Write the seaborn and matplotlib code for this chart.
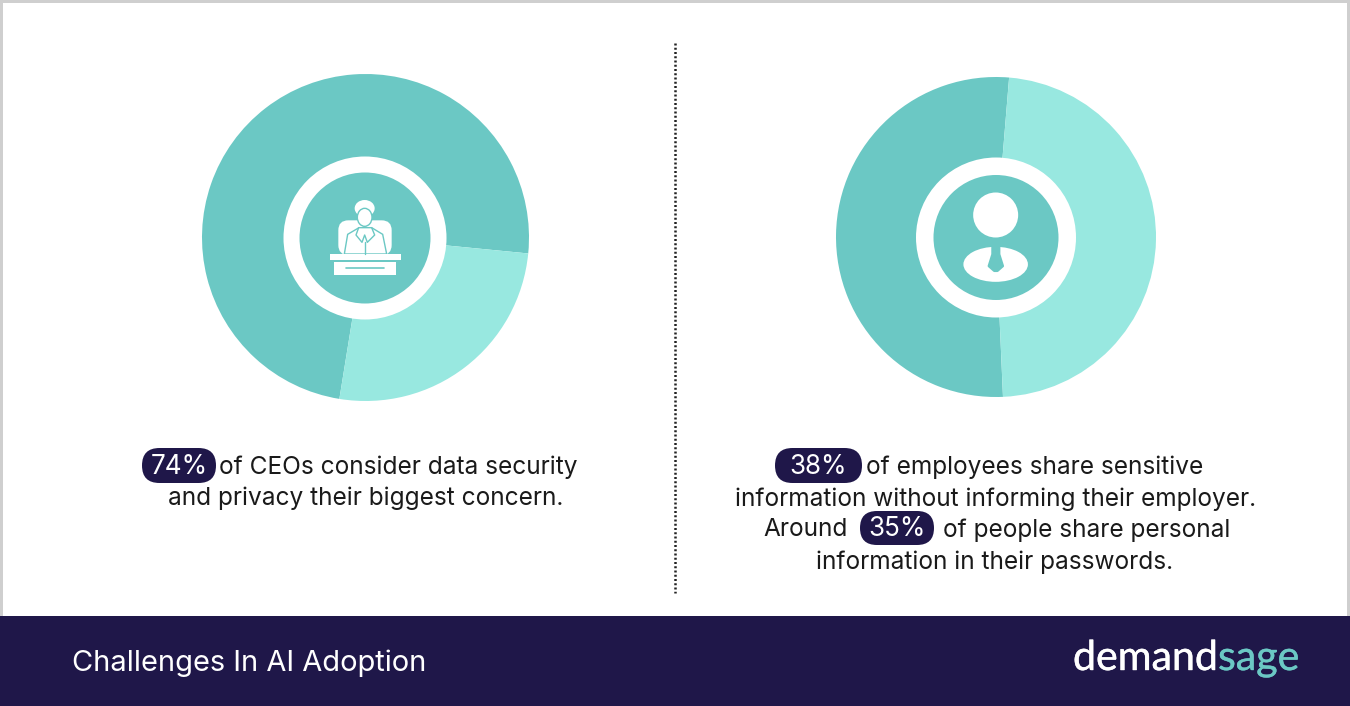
import matplotlib
matplotlib.use("Agg")
import matplotlib.pyplot as plt
import matplotlib.patheffects as pe
import seaborn as sns
from matplotlib.patches import Circle, Ellipse, FancyBboxPatch, Polygon, Rectangle

# Slice shares of each ring, dark segment first
ceo_shares = [74, 26]
employee_shares = [52, 48]
ceo_start_angle = -5.6
employee_start_angle = 85.3

ceo_lines = ["of CEOs consider data security", "and privacy their biggest concern."]
employee_lines = [
    "of employees share sensitive",
    "information without informing their employer.",
    "Around",
    "of people share personal",
    "information in their passwords.",
]
pill_labels = ["74%", "38%", "35%"]
footer_title = "Challenges In AI Adoption"
brand_parts = ["demand", "sage"]

NAVY = "#1f1749"
DARK_TEAL = "#6bc8c4"
LIGHT_TEAL = "#98e8e0"
RING_COLOURS = sns.color_palette([DARK_TEAL, LIGHT_TEAL])

sns.set_theme(style="white")
plt.rcParams["font.family"] = ["Inter", "DejaVu Sans"]

W, H = 1350, 706
fig = plt.figure(figsize=(W / 100, H / 100), dpi=100, facecolor="white")

# Pixel-addressed canvas for the panel furniture and text
canvas = fig.add_axes([0, 0, 1, 1], zorder=3)
canvas.set_xlim(0, W)
canvas.set_ylim(H, 0)
canvas.axis("off")
canvas.patch.set_alpha(0)


def draw_ring(shares, start_angle, cx, cy, radius):
    """Draw one donut through pie(), in an axes sized to the given pixel circle."""
    ax = fig.add_axes([(cx - radius) / W, 1 - (cy + radius) / H, 2 * radius / W, 2 * radius / H])
    ax.pie(shares, colors=RING_COLOURS, startangle=start_angle, counterclock=True,
           radius=1, wedgeprops={"linewidth": 0})
    ax.set_xlim(-1, 1)
    ax.set_ylim(-1, 1)
    ax.set_aspect("equal")
    ax.axis("off")
    return ax


draw_ring(ceo_shares, ceo_start_angle, 365.5, 237.5, 163.5)
draw_ring(employee_shares, employee_start_angle, 996, 237, 160)

# Central badges
canvas.add_patch(Circle((365, 238), 81.5, fc="white", ec="none"))
canvas.add_patch(Circle((365, 238), 65.5, fc=DARK_TEAL, ec="none"))
canvas.add_patch(Circle((996, 237.5), 80, fc="white", ec="none"))
canvas.add_patch(Circle((996, 237.5), 62.5, fc=DARK_TEAL, ec="none"))


def ex(x):
    return 280 + x / 3


def ey(y):
    return 155 + y / 3


# Executive at a desk
canvas.add_patch(FancyBboxPatch((ex(175), ey(196)), 160 / 3, 104 / 3,
                                boxstyle="round,pad=0,rounding_size=10", fc="white", ec="none"))
canvas.add_patch(Polygon([(ex(193), ey(297)), (ex(203), ey(238)), (ex(237), ey(218)), (ex(275), ey(218)),
                          (ex(308), ey(238)), (ex(320), ey(297))], closed=True, fc="white", ec=DARK_TEAL, lw=1))
canvas.plot([ex(236), ex(228), ex(246), ex(254), ex(262), ex(284), ex(275)],
            [ey(218), ey(240), ey(262), ey(240), ey(262), ey(240), ey(218)], color=DARK_TEAL, lw=1)
canvas.plot([ex(254), ex(254)], [ey(262), ey(297)], color=DARK_TEAL, lw=1)
canvas.add_patch(Ellipse((ex(254), ey(160)), 60 / 3, 50 / 3, fc="white", ec="none"))
canvas.add_patch(Ellipse((ex(254), ey(187)), 44 / 3, 54 / 3, fc="white", ec=DARK_TEAL, lw=1))
canvas.add_patch(Rectangle((ex(150), ey(298)), 212 / 3, 17 / 3, fc="white", ec="none"))
canvas.add_patch(Rectangle((ex(161), ey(322)), 188 / 3, 38 / 3, fc="white", ec="none"))
canvas.plot([ex(198), ex(312)], [ey(339), ey(339)], color=DARK_TEAL, lw=1.2)


def px(x):
    return 910 + x / 3


def py(y):
    return 155 + y / 3


# Generic employee figure
canvas.add_patch(Circle((px(257), py(180)), 22.5, fc="white", ec="none"))
canvas.add_patch(Ellipse((px(257), py(328)), 64.5, 35, fc="white", ec="none"))
canvas.add_patch(Polygon([(px(248), py(272)), (px(267), py(272)), (px(267), py(298)), (px(278), py(333)),
                          (px(262), py(347)), (px(253), py(347)), (px(237), py(333)), (px(248), py(298))],
                         closed=True, fc=DARK_TEAL, ec=DARK_TEAL, lw=2, joinstyle="round"))

# Divider and page furniture
canvas.plot([675, 675], [43, 593], color="#222222", lw=1.8, linestyle=(0, (0.8, 0.9)))
canvas.add_patch(Rectangle((0, 616), W, 90, fc=NAVY, ec="none"))
for rect in [(0, 0, W, 3), (0, 0, 3, 616), (W - 3, 0, 3, 616)]:
    canvas.add_patch(Rectangle(rect[:2], rect[2], rect[3], fc="#cfcfcf", ec="none"))

# Highlight pills
BODY = {"color": "#1a1a1a", "fontsize": 17.6, "va": "center"}
for label, (x0, x1, y0, y1) in zip(pill_labels, [(142, 216, 448, 483), (775, 862, 448, 483), (860, 934, 511, 545)]):
    canvas.add_patch(FancyBboxPatch((x0, y0), x1 - x0, y1 - y0,
                                    boxstyle=f"round,pad=0,rounding_size={(y1 - y0) / 2}", fc=NAVY, ec="none"))
    canvas.text((x0 + x1) / 2, (y0 + y1) / 2 + 1.5, label, ha="center", color="white",
                fontsize=18.8, va="center")

# Captions
canvas.text(219, 467, ceo_lines[0], ha="left", **BODY)
canvas.text(365.5, 498, ceo_lines[1], ha="center", **BODY)
canvas.text(866, 467, employee_lines[0], ha="left", **BODY)
canvas.text(996, 499, employee_lines[1], ha="center", **BODY)
canvas.text(763, 530, employee_lines[2], ha="left", **BODY)
canvas.text(943, 530, employee_lines[3], ha="left", **BODY)
canvas.text(995, 562, employee_lines[4], ha="center", **BODY)

# Footer band
canvas.text(72, 663, footer_title, color="white", fontsize=20.9, ha="left", va="center")
brand = {"fontsize": 29.6, "va": "baseline", "family": "Lato"}
canvas.text(1218, 670, brand_parts[0], color="white", ha="right", **brand,
            path_effects=[pe.withStroke(linewidth=0.3, foreground="white")])
canvas.text(1218, 670, brand_parts[1], color=DARK_TEAL, ha="left", **brand,
            path_effects=[pe.withStroke(linewidth=0.3, foreground=DARK_TEAL)])

fig.savefig("out.png", dpi=100, facecolor="white")
